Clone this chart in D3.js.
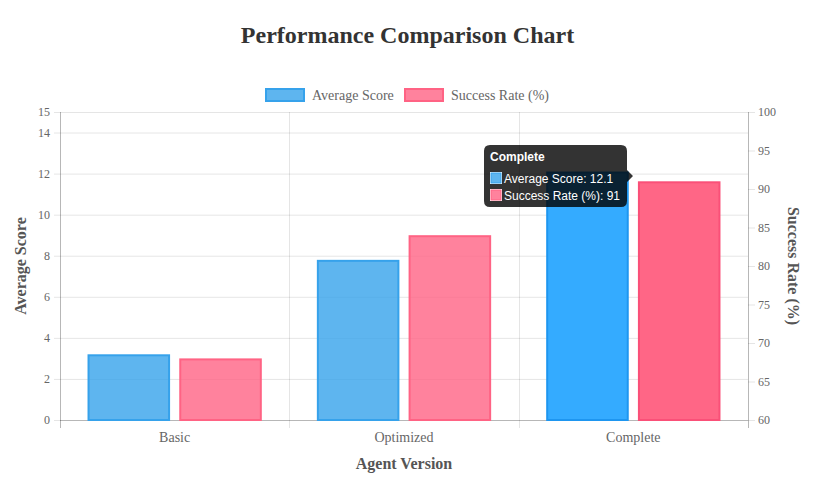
<!DOCTYPE html>
<html>
<head>
<meta charset="utf-8">
<script src="https://cdn.jsdelivr.net/npm/d3@7"></script>
<style>
  body { margin: 0; background: #fff; }
  svg { display: block; }
</style>
</head>
<body>
<svg id="chart" width="815" height="481"></svg>
<script>
var categories = ["Basic", "Optimized", "Complete"];
var avgScore = [3.2, 7.8, 12.1];
var successRate = [68, 84, 91];
var leftTicks = [0, 2, 4, 6, 8, 10, 12, 14, 15];
var rightTicks = [60, 65, 70, 75, 80, 85, 90, 95, 100];
var hoverIndex = 2;

var svg = d3.select("#chart"),
    WIDTH = 815,
    HEIGHT = 481,
    MARGINS = { top: 112, right: 67, bottom: 61, left: 60 };

var serif = "'Liberation Serif', 'Times New Roman', serif";
var sans = "'Liberation Sans', Arial, sans-serif";

var x0 = d3.scaleBand().domain(categories)
    .range([MARGINS.left, WIDTH - MARGINS.right]);
var x1 = d3.scaleBand().domain(["avg", "rate"])
    .range([0, x0.bandwidth() * 0.8]);
var yLeft = d3.scaleLinear().domain([0, 15])
    .range([HEIGHT - MARGINS.bottom, MARGINS.top]);
var yRight = d3.scaleLinear().domain([60, 100])
    .range([HEIGHT - MARGINS.bottom, MARGINS.top]);

var plotBottom = HEIGHT - MARGINS.bottom;
var plotRight = WIDTH - MARGINS.right;

// grid
var grid = svg.append("g");
grid.selectAll("line.h").data(leftTicks).enter().append("line")
    .attr("x1", MARGINS.left - 6).attr("x2", plotRight)
    .attr("y1", d => yLeft(d) + 0.5).attr("y2", d => yLeft(d) + 0.5)
    .attr("stroke", "rgba(0,0,0,0.1)");
var bounds = categories.map(c => x0(c)).concat([plotRight]);
grid.selectAll("line.v").data(bounds).enter().append("line")
    .attr("x1", d => Math.round(d) + 0.5).attr("x2", d => Math.round(d) + 0.5)
    .attr("y1", MARGINS.top).attr("y2", plotBottom + 8)
    .attr("stroke", "rgba(0,0,0,0.1)");

// axis lines
svg.append("line").attr("x1", MARGINS.left + 0.5).attr("x2", MARGINS.left + 0.5)
    .attr("y1", MARGINS.top).attr("y2", plotBottom + 8).attr("stroke", "rgba(0,0,0,0.2)");
svg.append("line").attr("x1", plotRight + 0.5).attr("x2", plotRight + 0.5)
    .attr("y1", MARGINS.top).attr("y2", plotBottom + 8).attr("stroke", "rgba(0,0,0,0.2)");
svg.append("line").attr("x1", MARGINS.left).attr("x2", plotRight)
    .attr("y1", plotBottom + 0.5).attr("y2", plotBottom + 0.5).attr("stroke", "rgba(0,0,0,0.2)");

// axes
var leftAxis = d3.axisLeft(yLeft).tickValues(leftTicks).tickSize(0).tickPadding(10);
var gL = svg.append("g").attr("transform", "translate(" + MARGINS.left + ",0)").call(leftAxis);
var rightAxis = d3.axisRight(yRight).tickValues(rightTicks).tickSize(7).tickPadding(3);
var gR = svg.append("g").attr("transform", "translate(" + plotRight + ",0)").call(rightAxis);
gR.selectAll(".tick line").attr("stroke", "rgba(0,0,0,0.1)");
var bottomAxis = d3.axisBottom(x0).tickSize(0).tickPadding(12);
var gB = svg.append("g").attr("transform", "translate(0," + plotBottom + ")").call(bottomAxis);
[gL, gR, gB].forEach(function (g) {
  g.select(".domain").remove();
  g.selectAll("text").attr("fill", "#666").style("font-family", serif).style("font-size", "12px");
});
gB.selectAll("text").style("font-size", "14px");

// bars
var colors = {
  avg: { fill: "rgba(54,162,235,0.8)", stroke: "rgb(54,162,235)", hover: "rgb(52,171,255)", hoverStroke: "rgb(30,150,240)" },
  rate: { fill: "rgba(255,99,132,0.8)", stroke: "rgb(255,99,132)", hover: "rgb(255,102,134)", hoverStroke: "rgb(250,80,120)" }
};
var barData = [];
categories.forEach(function (c, i) {
  barData.push({ cat: c, i: i, key: "avg", y: yLeft(avgScore[i]) });
  barData.push({ cat: c, i: i, key: "rate", y: yRight(successRate[i]) });
});
var bw = x1.bandwidth() * 0.9;
svg.append("g").selectAll("rect").data(barData).enter().append("rect")
  .attr("x", d => x0(d.cat) + x0.bandwidth() * 0.1 + x1(d.key) + x1.bandwidth() * 0.05 + 1)
  .attr("y", d => d.y + 1)
  .attr("width", bw - 2)
  .attr("height", d => plotBottom - d.y - 1)
  .attr("fill", d => d.i === hoverIndex ? colors[d.key].hover : colors[d.key].fill)
  .attr("stroke", d => d.i === hoverIndex ? colors[d.key].hoverStroke : colors[d.key].stroke)
  .attr("stroke-width", 2);

// title
svg.append("text").attr("x", WIDTH / 2).attr("y", 43).attr("text-anchor", "middle")
  .style("font-family", serif).style("font-weight", "bold").style("font-size", "24px")
  .attr("fill", "#333").text("Performance Comparison Chart");

// axis titles
svg.append("text").attr("transform", "translate(26," + ((MARGINS.top + plotBottom) / 2) + ") rotate(-90)")
  .attr("text-anchor", "middle").style("font-family", serif).style("font-weight", "bold")
  .style("font-size", "16px").attr("fill", "#555").text("Average Score");
svg.append("text").attr("transform", "translate(788," + ((MARGINS.top + plotBottom) / 2) + ") rotate(90)")
  .attr("text-anchor", "middle").style("font-family", serif).style("font-weight", "bold")
  .style("font-size", "16px").attr("fill", "#555").text("Success Rate (%)");
svg.append("text").attr("x", (MARGINS.left + plotRight) / 2).attr("y", 469)
  .attr("text-anchor", "middle").style("font-family", serif).style("font-weight", "bold")
  .style("font-size", "16px").attr("fill", "#555").text("Agent Version");

// legend
var legendItems = [
  { label: "Average Score", key: "avg", x: 265 },
  { label: "Success Rate (%)", key: "rate", x: 404 }
];
var lg = svg.append("g").selectAll("g").data(legendItems).enter().append("g")
  .attr("transform", d => "translate(" + d.x + ",88)");
lg.append("rect").attr("x", 1).attr("y", 1).attr("width", 38).attr("height", 12)
  .attr("fill", d => colors[d.key].fill).attr("stroke", d => colors[d.key].stroke).attr("stroke-width", 2);
lg.append("text").attr("x", 47).attr("y", 12).style("font-family", serif).style("font-size", "14px")
  .attr("fill", "#666").text(d => d.label);

// tooltip
var tip = svg.append("g").attr("transform", "translate(484,145)");
var tw = 143, th = 62;
tip.append("path")
  .attr("d", "M6,0 H" + (tw - 6) + " Q" + tw + ",0 " + tw + ",6 V" + (31 - 6) + " L" + (tw + 6) + ",31 L" + tw + "," + (31 + 6) +
    " V" + (th - 6) + " Q" + tw + "," + th + " " + (tw - 6) + "," + th + " H6 Q0," + th + " 0," + (th - 6) + " V6 Q0,0 6,0 Z")
  .attr("fill", "rgba(0,0,0,0.8)");
tip.append("text").attr("x", 6).attr("y", 16).style("font-family", sans).style("font-weight", "bold")
  .style("font-size", "12px").attr("fill", "#fff").text(categories[hoverIndex]);
var tipRows = [
  { key: "avg", text: "Average Score: " + avgScore[hoverIndex] },
  { key: "rate", text: "Success Rate (%): " + successRate[hoverIndex] }
];
var tr = tip.selectAll("g.row").data(tipRows).enter().append("g")
  .attr("transform", (d, i) => "translate(6," + (27 + i * 17) + ")");
tr.append("rect").attr("width", 12).attr("height", 12).attr("fill", "#fff");
tr.append("rect").attr("x", 1).attr("y", 1).attr("width", 10).attr("height", 10)
  .attr("fill", d => colors[d.key].fill).attr("stroke", d => colors[d.key].stroke).attr("stroke-width", 1);
tr.append("text").attr("x", 14).attr("y", 10.5).style("font-family", sans).style("font-size", "12px")
  .attr("fill", "#fff").text(d => d.text);
</script>
</body>
</html>
